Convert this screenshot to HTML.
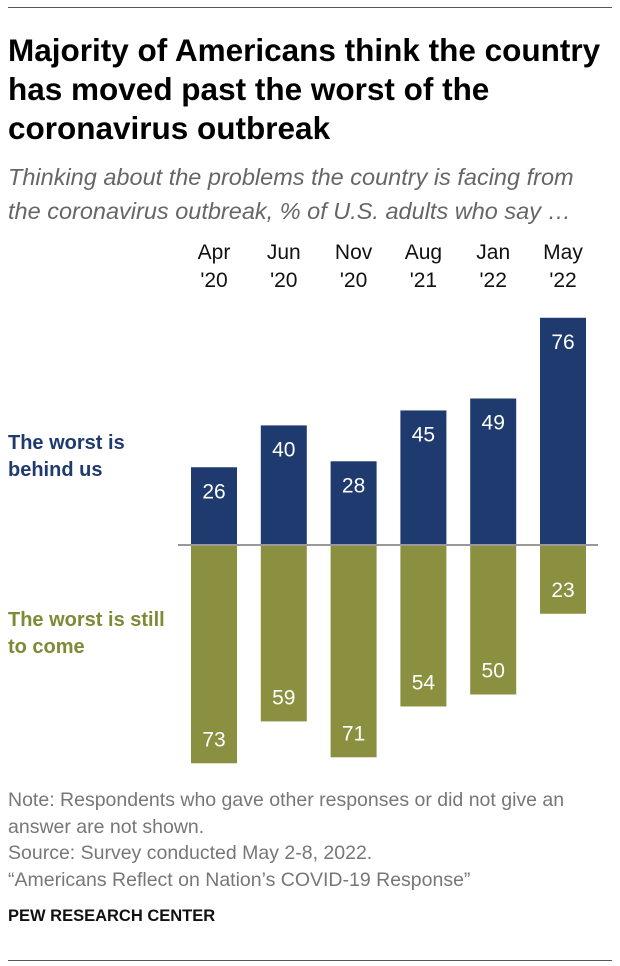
<!DOCTYPE html>
<html><head><meta charset="utf-8"><style>
body{margin:0;width:620px;height:966px;background:#fff;font-family:"Liberation Sans",sans-serif;position:relative;overflow:hidden}
.a{position:absolute;white-space:nowrap}
</style></head><body>
<div class="a" style="left:8px;top:7px;width:604px;height:1px;background:#555"></div>
<div class="a" style="left:8px;top:31px;font-size:31.5px;font-weight:bold;line-height:39px;color:#000">Majority of Americans think the country<br>has moved past the worst of the<br>coronavirus outbreak</div>
<div class="a" style="left:8px;top:160px;font-size:23.5px;font-style:italic;line-height:34px;color:#666">Thinking about the problems the country is facing from<br>the coronavirus outbreak, % of U.S. adults who say …</div>
<div class="a" style="left:8px;top:430px;font-size:20px;font-weight:bold;line-height:27px;color:#1f3a6e">The worst is<br>behind us</div>
<div class="a" style="left:8px;top:607px;font-size:20px;font-weight:bold;line-height:27px;color:#7f8a36">The worst is still<br>to come</div>
<svg class="a" style="left:0;top:0" width="620" height="966" id="chart"></svg>
<div class="a" style="left:8px;top:787px;font-size:19.5px;line-height:26.5px;color:#777">Note: Respondents who gave other responses or did not give an<br>answer are not shown.<br>Source: Survey conducted May 2-8, 2022.<br>“Americans Reflect on Nation’s COVID-19 Response”</div>
<div class="a" style="left:8px;top:907px;font-size:16.5px;font-weight:bold;color:#111">PEW RESEARCH CENTER</div>
<div class="a" style="left:8px;top:960px;width:604px;height:1px;background:#555"></div>
<script>
const categories=["Apr","Jun","Nov","Aug","Jan","May"];
const years=["'20","'20","'20","'21","'22","'22"];
const behind=[26,40,28,45,49,76];
const toCome=[73,59,71,54,50,23];
const svg=document.getElementById('chart');
const NS='http://www.w3.org/2000/svg';
const zeroY=545, scale=2.99, x0=214, dx=69.8, bw=46;
const y=v=>v*scale;
const cx=i=>x0+i*dx;
function mk(t,a){const e=document.createElementNS(NS,t);for(const k in a)e.setAttribute(k,a[k]);svg.appendChild(e);return e;}
categories.forEach((c,i)=>{
  const t1=mk('text',{x:cx(i),y:259,'text-anchor':'middle','font-size':21,fill:'#111'});t1.textContent=c;
  
  
  const t2=mk('text',{x:cx(i),y:287,'text-anchor':'middle','font-size':21,fill:'#111'});t2.textContent=years[i];
  
  
  const h=y(behind[i]);
  const r1=mk('rect',{x:cx(i)-bw/2,y:zeroY-h,width:bw,height:h,fill:'#1f3a6e'});
  
  
  const v1=mk('text',{x:cx(i),y:zeroY-h+31,'text-anchor':'middle','font-size':21,fill:'#fff'});v1.textContent=behind[i];
  
  
  const h2=y(toCome[i]);
  const r2=mk('rect',{x:cx(i)-bw/2,y:zeroY,width:bw,height:h2,fill:'#8a9040'});
  
  
  const v2=mk('text',{x:cx(i),y:zeroY+h2-17,'text-anchor':'middle','font-size':21,fill:'#fff'});v2.textContent=toCome[i];
  
  
});
const zl=mk('line',{x1:178,x2:598,y1:zeroY,y2:zeroY,stroke:'#999','stroke-width':2});


</script>
</body></html>
